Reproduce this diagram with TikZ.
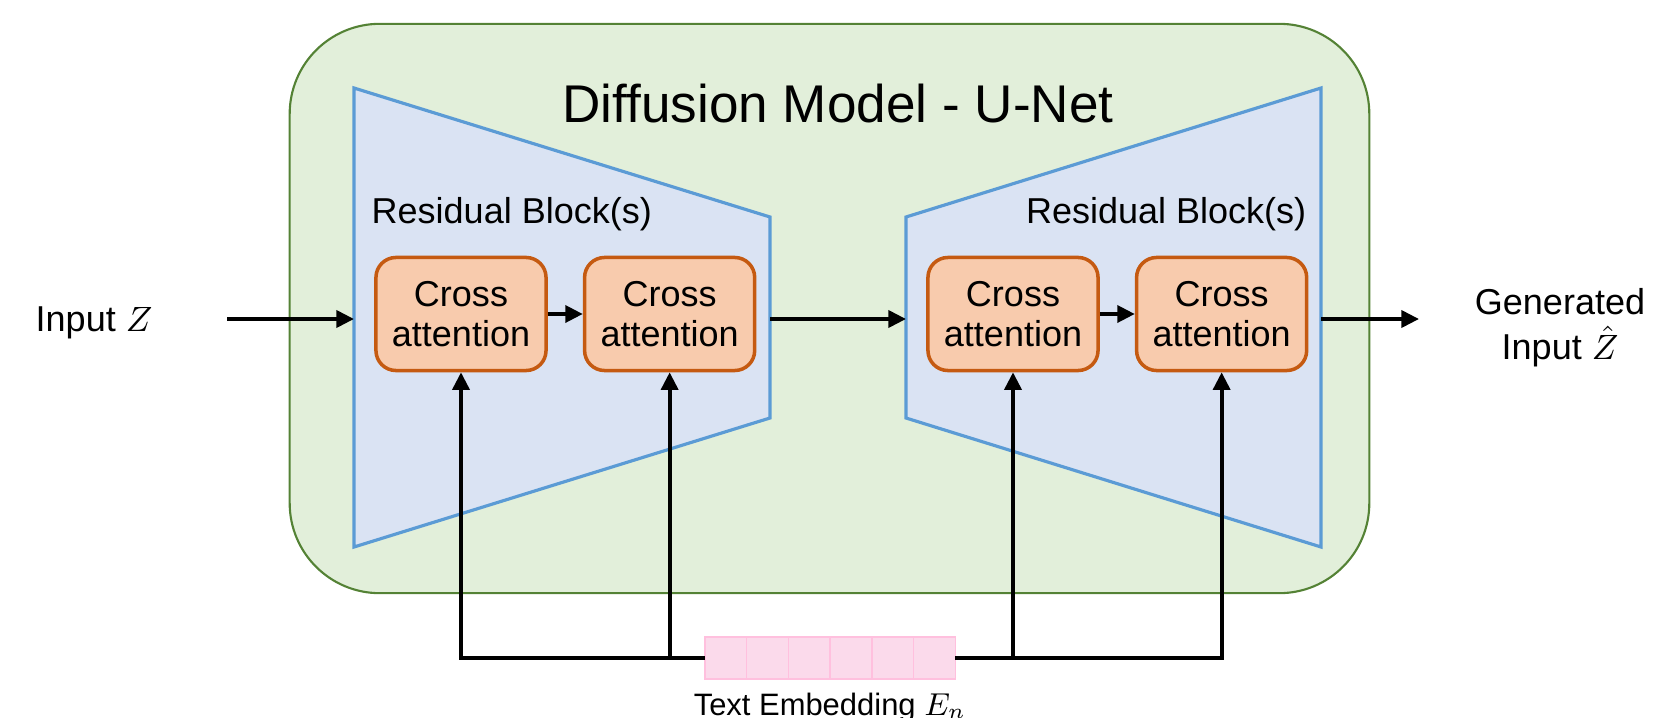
\documentclass[tikz,border=0pt]{standalone}
\usepackage{fontspec}
\setmainfont{Liberation Sans}
\usepackage{amsmath}
\usetikzlibrary{arrows.meta,positioning}
\definecolor{unetgreen}{RGB}{226,239,218}
\definecolor{unetgreenline}{RGB}{84,130,53}
\definecolor{blockblue}{RGB}{218,227,243}
\definecolor{blockblueline}{RGB}{91,155,213}
\definecolor{attnorange}{RGB}{248,203,173}
\definecolor{attnorangeline}{RGB}{197,90,17}
\definecolor{embpink}{RGB}{251,218,235}
\definecolor{embpinkline}{RGB}{255,192,222}

\begin{document}
\begin{tikzpicture}[
  x=0.01cm, y=-0.01cm,
  node distance=0.35cm,
  every node/.style={font=\fontsize{10.24}{11.4}\selectfont},
  unet/.style={draw=unetgreenline, fill=unetgreen, line width=0.6pt, rounded corners=0.9cm, minimum width=10.79cm, minimum height=5.69cm},
  resblock/.style={draw=blockblueline, fill=blockblue, line width=0.9pt, line join=miter},
  attn/.style={draw=attnorangeline, fill=attnorange, line width=1pt, rounded corners=0.2cm, align=center, minimum width=1.7cm, minimum height=1.13cm, inner sep=1pt},
  cell/.style={draw=embpinkline, fill=embpink, line width=0.4pt, minimum width=0.417cm, minimum height=0.42cm, inner sep=0pt, outer sep=0pt},
  arr/.style={-{Triangle[length=5pt,width=4.8pt]}, line width=1.1pt},
  lbl/.style={inner sep=0pt, align=center}
]
\useasboundingbox (0,0) rectangle (1654,718);

\node[unet] (unet) at (829.5,308.5) {};
\node[lbl, anchor=base, font=\fontsize{15.1}{18}\selectfont] (title) at (838,123) {Diffusion Model - U-Net};

% encoder / decoder blocks
\draw[resblock] (354,88) -- (770,217) -- (770,418) -- (354,547) -- cycle;
\draw[resblock] (906,217) -- (1321,88) -- (1321,547) -- (906,418) -- cycle;
\coordinate (enc in) at (354,319);
\coordinate (enc out) at (770,319);
\coordinate (dec in) at (906,319);
\coordinate (dec out) at (1321,319);
\node[lbl, anchor=base west] (enclabel) at (371,223) {Residual Block(s)};
\node[lbl, anchor=base east] (declabel) at (1307,223) {Residual Block(s)};

\node[attn] (ca1) at (461,314) {Cross\\attention};
\node[attn, right=of ca1] (ca2) {Cross\\attention};
\node[attn] (ca3) at (1013,314) {Cross\\attention};
\node[attn, right=of ca3] (ca4) {Cross\\attention};

% input and output
\node[lbl, anchor=base west] (input) at (35,331) {Input $Z$};
\coordinate (zin) at (227,319);
\node[lbl, anchor=base, font=\fontsize{10.24}{12.6}\selectfont] (output) at (1560,359) {Generated\\Input $\hat{Z}$};
\coordinate (zout) at (1419,319);

% text embedding
\node[cell] (e1) at (725.85,658) {};
\foreach \i [count=\j from 2] in {1,...,5}
  \node[cell, right=0pt of e\i] (e\j) {};
\node[lbl, anchor=base, font=\fontsize{8.8}{10.5}\selectfont] (emblabel) at (830,715) {Text Embedding $E_n$};

\draw[arr] (zin) -- (enc in);
\draw[arr] (ca1) -- (ca2);
\draw[arr] (enc out) -- (dec in);
\draw[arr] (ca3) -- (ca4);
\draw[arr] (dec out) -- (zout);

\draw[arr] (e1.west) -| (ca1);
\draw[arr] (ca2 |- e1.west) -- (ca2);
\draw[arr] (e6.east) -| (ca4);
\draw[arr] (ca3 |- e6.east) -- (ca3);
\end{tikzpicture}
\end{document}
